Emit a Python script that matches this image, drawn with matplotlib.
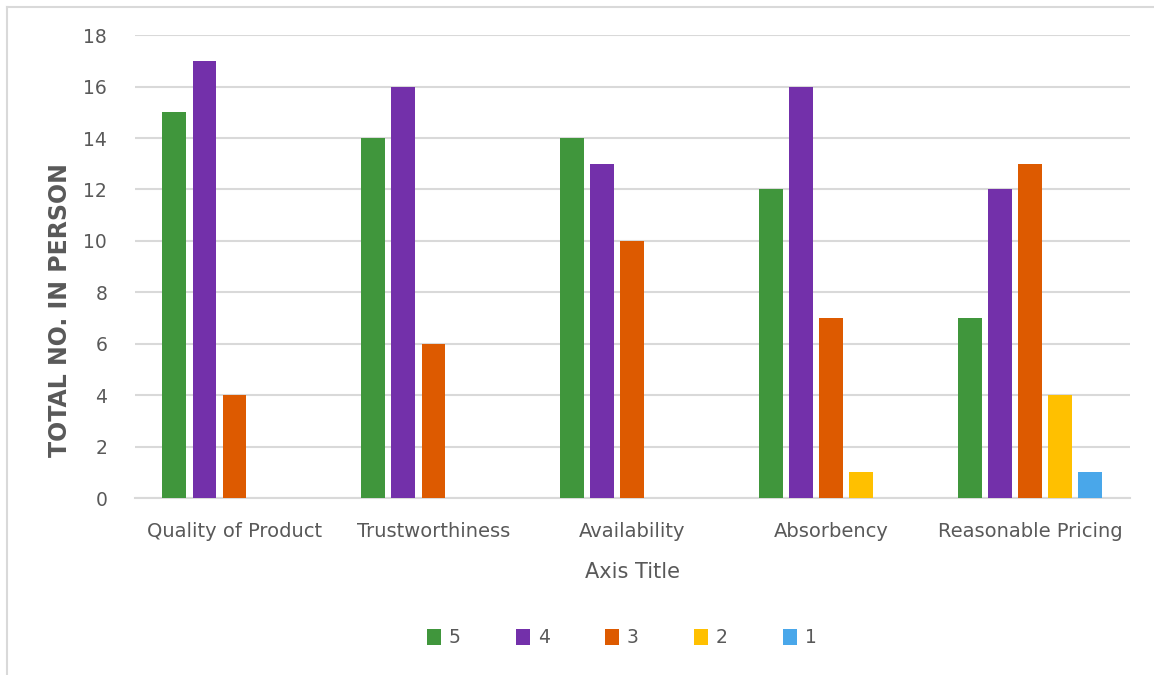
import numpy as np
import matplotlib
matplotlib.use("Agg")
import matplotlib.pyplot as plt
from matplotlib.lines import Line2D

categories = ['Quality of Product', 'Trustworthiness', 'Availability', 'Absorbency', 'Reasonable Pricing']
series_names = ['5', '4', '3', '2', '1']
vals_5 = [15, 14, 14, 12, 7]
vals_4 = [17, 16, 13, 16, 12]
vals_3 = [4, 6, 10, 7, 13]
vals_2 = [0, 0, 0, 1, 4]
vals_1 = [0, 0, 0, 0, 1]
colors = ['#40963C', '#7330AA', '#DD5A00', '#FFC000', '#49A7EA']

txt = '#595959'
grid = '#D9D9D9'

fig = plt.figure(figsize=(11.54, 6.75), dpi=100)
ax = fig.add_axes([0.117, 0.262, 0.862, 0.686])

x = np.arange(len(categories))
step = 0.151
width = 0.12
all_vals = [vals_5, vals_4, vals_3, vals_2, vals_1]
for i, (name, v) in enumerate(zip(series_names, all_vals)):
    ax.bar(x + (i - 2) * step, v, width, color=colors[i], label=name, zorder=3)

ax.set_xlim(-0.5, len(categories) - 0.5)
ax.set_ylim(0, 18)
ax.set_yticks(range(0, 19, 2))
ax.yaxis.grid(True, color=grid, linewidth=1.5, zorder=0)
ax.set_axisbelow(True)
for s in ['top', 'right', 'left']:
    ax.spines[s].set_visible(False)
ax.spines['bottom'].set_color(grid)
ax.spines['bottom'].set_linewidth(1.5)
ax.tick_params(axis='both', length=0, labelsize=13.5, colors=txt)
ax.tick_params(axis='y', pad=20)
ax.tick_params(axis='x', pad=17, labelsize=14)
ax.set_xticks(x)
ax.set_xticklabels(categories)

ax.set_xlabel('Axis Title', fontsize=15, color=txt, labelpad=15)
ax.set_ylabel('TOTAL NO. IN PERSON', fontsize=17, fontweight='bold', color=txt)
ax.yaxis.set_label_coords(-0.063, 0.406)

fig.legend(loc='center', bbox_to_anchor=(0.539, 0.055), ncol=5, frameon=False,
           fontsize=13.5, labelcolor=txt, handlelength=0.75, handleheight=0.9,
           handletextpad=0.4, columnspacing=2.96)

# chart area border (left and top visible)
fig.add_artist(Line2D([7 / 1154, 7 / 1154], [0, 1 - 7 / 675], transform=fig.transFigure, color=grid, linewidth=1.5))
fig.add_artist(Line2D([7 / 1154, 1], [1 - 7 / 675, 1 - 7 / 675], transform=fig.transFigure, color=grid, linewidth=1.5))

fig.savefig('out.png', dpi=100)
